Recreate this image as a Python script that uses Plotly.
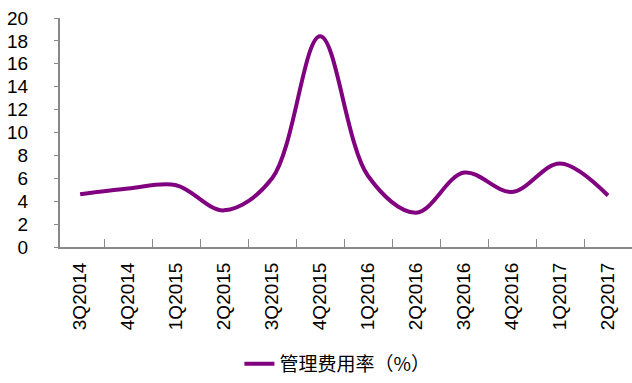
import plotly.graph_objects as go

# Quarterly administrative expense ratio
quarters = ["3Q2014", "4Q2014", "1Q2015", "2Q2015", "3Q2015", "4Q2015",
            "1Q2016", "2Q2016", "3Q2016", "4Q2016", "1Q2017", "2Q2017"]
expense_ratio = [4.6, 5.1, 5.4, 3.2, 6.0, 18.4, 6.2, 3.0, 6.5, 4.8, 7.3, 4.5]
y_ticks = [0, 2, 4, 6, 8, 10, 12, 14, 16, 18, 20]
series_name = "管理费用率（%）"

font_family = "Liberation Sans, Arial, Noto Sans CJK SC, sans-serif"

fig = go.Figure()
fig.add_trace(go.Scatter(
    x=quarters,
    y=expense_ratio,
    mode="lines",
    name=series_name,
    line=dict(color="#800080", width=4, shape="spline", smoothing=1.0),
))

fig.update_layout(
    width=632, height=383,
    margin=dict(l=60, r=0, t=18, b=135),
    paper_bgcolor="white", plot_bgcolor="white",
    font=dict(family=font_family, size=19, color="black"),
    showlegend=True,
    legend=dict(orientation="h", x=0.485, xanchor="center", y=-0.43, yanchor="top",
                font=dict(size=19, family="Noto Sans CJK SC, sans-serif")),
    xaxis=dict(
        type="category",
        range=[-0.42, 11.5],
        tickangle=-90,
        ticks="inside", ticklen=8, tickcolor="#888888",
        tickson="boundaries",
        showline=True, linecolor="#888888", linewidth=2,
        showgrid=False, zeroline=False,
        tickfont=dict(size=19),
        ticklabelstandoff=6,
    ),
    yaxis=dict(
        range=[0, 20],
        tickmode="array",
        tickvals=y_ticks,
        ticks="outside", ticklen=4, tickcolor="#888888",
        showline=True, linecolor="#888888", linewidth=2,
        showgrid=False, zeroline=False,
        tickfont=dict(size=19),
        ticklabelstandoff=22,
    ),
)

fig.write_html("out.html")
